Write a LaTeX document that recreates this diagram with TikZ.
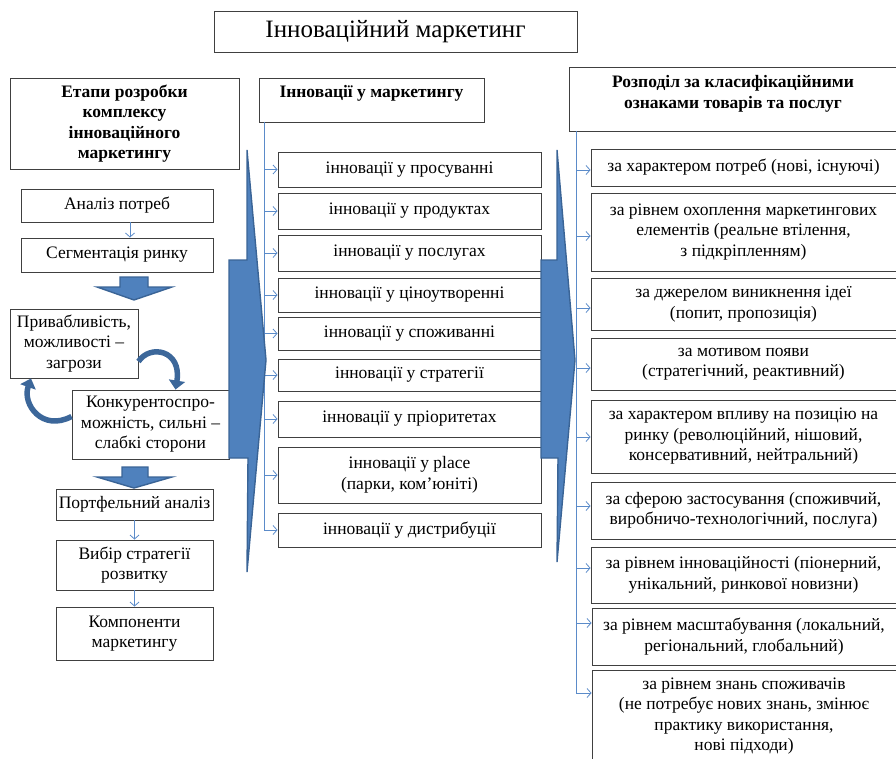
\documentclass[tikz,border=0pt]{standalone}
\usepackage{fontspec}
\setmainfont{Liberation Serif}
\usetikzlibrary{arrows.meta}
\definecolor{officeblue}{HTML}{4F81BD}
\definecolor{edgeblue}{HTML}{3A6496}
\definecolor{linkblue}{HTML}{5B8BC9}
\tikzset{
  box/.style={draw=black!75, line width=0.9pt, align=center, inner sep=2pt,
    font=\fontsize{17.5}{20.5}\selectfont},
  headbox/.style={box, font=\bfseries\fontsize{17.5}{20.5}\selectfont},
  link/.style={draw=linkblue, line width=0.8pt, -{Straight Barb[length=4pt,width=9pt]}},
  spine/.style={draw=linkblue, line width=0.8pt},
  bigblock/.style={fill=officeblue, draw=edgeblue, line width=1.4pt, line join=miter},
  cyclearrow/.style={draw=edgeblue!90!officeblue, line width=5.5pt,
    -{Triangle[length=9pt,width=16pt]}}
}
\begin{document}
\begin{tikzpicture}[x=1pt, y=-1pt]
\useasboundingbox (0,0) rectangle (896,759);

    % Title
    \node[box, font=\fontsize{25}{28}\selectfont, minimum width=363, minimum height=41] (title) at (395.5,31.5) {Інноваційний маркетинг};

    % Column headers
    \node[headbox, minimum width=229, minimum height=91] (lh) at (124.5,123.5) {Етапи розробки\\комплексу\\інноваційного\\маркетингу};
    \node[headbox, minimum width=225, minimum height=44] (mh) at (371.5,100) {Інновації у маркетингу\\[-4pt]\mbox{}};
    \node[headbox, minimum width=328, minimum height=64] (rh) at (733,99) {Розподіл за класифікаційними\\ознаками товарів та послуг\\[-6pt]\mbox{}};

    % Left column: stages
    \node[box, minimum width=192, minimum height=33] (a1) at (117,205.5) {Аналіз потреб};
    \node[box, minimum width=192, minimum height=34] (a2) at (117,255) {Сегментація ринку};
    \node[box, minimum width=128, minimum height=69] (a3) at (74,343.5) {Привабливість,\\можливості –\\загрози};
    \node[box, minimum width=157, minimum height=69] (a4) at (150.5,424.5) {Конкурентоспро-\\можність, сильні –\\слабкі сторони};
    \node[box, minimum width=157, minimum height=31] (a5) at (134.5,504.5) {Портфельний аналіз};
    \node[box, minimum width=157, minimum height=50] (a6) at (134.5,565) {Вибір стратегії\\розвитку};
    \node[box, minimum width=157, minimum height=53] (a7) at (134.5,633.5) {Компоненти\\маркетингу};

    \draw[link] ([xshift=13pt]a1.south) -- ([xshift=13pt]a2.north);
    \draw[link] (a5) -- (a6);
    \draw[link] (a6) -- (a7);

    % Block arrows down
    \draw[bigblock] (120,277) -- (148,277) -- (148,287) -- (172,287) -- (134,300) -- (97,287) -- (120,287) -- cycle;
    \draw[bigblock] (122,467) -- (148,467) -- (148,477) -- (172,477) -- (134,488) -- (97,477) -- (122,477) -- cycle;

    % Curved arrows between the two analysis boxes
    \draw[cyclearrow] ([yshift=-18pt]a3.east) .. controls (150,344) and (182,350) .. ([xshift=25pt]a4.north);
    \draw[cyclearrow] ([yshift=8pt]a4.west) .. controls (42,432) and (22,404) .. ([xshift=-43pt]a3.south);

    % Middle column: innovations
    \node[box, minimum width=263, minimum height=35] (m1) at (409.5,169.5) {інновації у просуванні};
    \node[box, minimum width=263, minimum height=36] (m2) at (409.5,211) {інновації у продуктах};
    \node[box, minimum width=263, minimum height=36] (m3) at (409.5,253) {інновації у послугах};
    \node[box, minimum width=263, minimum height=34] (m4) at (409.5,295) {інновації у ціноутворенні};
    \node[box, minimum width=263, minimum height=33] (m5) at (409.5,333.5) {інновації у споживанні};
    \node[box, minimum width=263, minimum height=32] (m6) at (409.5,375) {інновації у стратегії};
    \node[box, minimum width=263, minimum height=36] (m7) at (409.5,419) {інновації у пріоритетах};
    \node[box, minimum width=263, minimum height=56] (m8) at (409.5,475) {інновації у place\\(парки, ком’юніті)};
    \node[box, minimum width=263, minimum height=34] (m9) at (409.5,530) {інновації у дистрибуції};

    \coordinate (ms) at (264,122);
    \draw[spine] (ms) -- (ms |- m9.west);
    \foreach \i in {1,...,9}
      \draw[link] (ms |- m\i.west) -- (m\i.west);

    % Right column: classification
    \node[box, minimum width=305, minimum height=37] (r1) at (743.5,167.5) {за характером потреб (нові, існуючі)};
    \node[box, minimum width=305, minimum height=78] (r2) at (743.5,232) {за рівнем охоплення маркетингових\\елементів (реальне втілення,\\з підкріпленням)};
    \node[box, minimum width=305, minimum height=52] (r3) at (743.5,304) {за джерелом виникнення ідеї\\(попит, пропозиція)};
    \node[box, minimum width=305, minimum height=52] (r4) at (743.5,364) {за мотивом появи\\(стратегічний, реактивний)};
    \node[box, minimum width=305, minimum height=73] (r5) at (743.5,436.5) {за характером впливу на позицію на\\ринку (революційний, нішовий,\\консервативний, нейтральний)};
    \node[box, minimum width=305, minimum height=57] (r6) at (743.5,510.5) {за сферою застосування (споживчий,\\виробничо-технологічний, послуга)};
    \node[box, minimum width=305, minimum height=56] (r7) at (743.5,575) {за рівнем інноваційності (піонерний,\\унікальний, ринкової новизни)};
    \node[box, minimum width=304, minimum height=57] (r8) at (744,636.5) {за рівнем масштабування (локальний,\\регіональний, глобальний)};
    \node[box, minimum width=304, minimum height=92] (r9) at (744,716) {за рівнем знань споживачів\\(не потребує нових знань, змінює\\практику використання,\\нові підходи)};

    % Big chevrons between the columns
    \draw[bigblock] (247,150) -- (266,360) -- (247,572) -- (248,458) -- (229,458) -- (229,260) -- (247,260) -- cycle;
    \draw[bigblock] (557,150) -- (575,360) -- (557,562) -- (558,458) -- (541,458) -- (541,260) -- (557,260) -- cycle;

    \coordinate (rs) at (576,131);
    \coordinate (rend) at (576,693);
    \draw[spine] (rs) -- (rend);
    \foreach \n/\y in {r1/170, r2/236, r3/308, r4/368, r5/437, r6/506, r7/568, r8/623, r9/693} {
      \coordinate (t) at (576,\y);
      \draw[link] (t) -- (t -| \n.west);
    }

\end{tikzpicture}
\end{document}
